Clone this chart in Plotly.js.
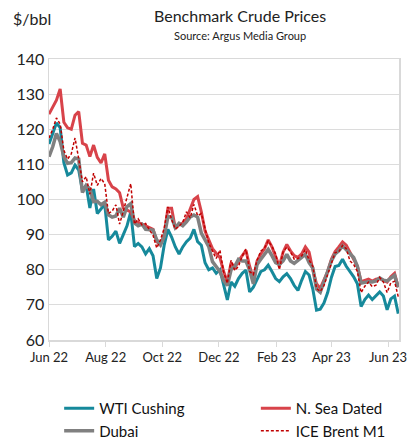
<!DOCTYPE html>
<html><head><meta charset="utf-8">
<script src="https://cdn.plot.ly/plotly-3.0.1.min.js"></script>
<style>html,body{margin:0;padding:0;background:#fff}#chart{width:411px;height:441px}</style>
</head><body><div id="chart"></div>
<script>
const dates = ["2022-06-01","2022-06-05","2022-06-09","2022-06-13","2022-06-17","2022-06-21","2022-06-25","2022-06-29",
"2022-07-03","2022-07-07","2022-07-11","2022-07-15","2022-07-19","2022-07-23","2022-07-27","2022-07-31",
"2022-08-04","2022-08-08","2022-08-12","2022-08-16","2022-08-20","2022-08-24","2022-08-28",
"2022-09-01","2022-09-05","2022-09-09","2022-09-13","2022-09-17","2022-09-21","2022-09-25","2022-09-29",
"2022-10-03","2022-10-07","2022-10-11","2022-10-15","2022-10-19","2022-10-23","2022-10-27","2022-10-31",
"2022-11-04","2022-11-08","2022-11-12","2022-11-16","2022-11-20","2022-11-24","2022-11-28",
"2022-12-02","2022-12-06","2022-12-10","2022-12-14","2022-12-18","2022-12-22","2022-12-26","2022-12-30",
"2023-01-03","2023-01-07","2023-01-11","2023-01-15","2023-01-19","2023-01-23","2023-01-27","2023-01-31",
"2023-02-04","2023-02-08","2023-02-12","2023-02-16","2023-02-20","2023-02-24","2023-02-28",
"2023-03-04","2023-03-08","2023-03-12","2023-03-16","2023-03-20","2023-03-24","2023-03-28",
"2023-04-01","2023-04-05","2023-04-09","2023-04-13","2023-04-17","2023-04-21","2023-04-25","2023-04-29",
"2023-05-03","2023-05-07","2023-05-11","2023-05-15","2023-05-19","2023-05-23","2023-05-27","2023-05-31",
"2023-06-04","2023-06-08","2023-06-12"];

const wtiCushing = [115.8,118.9,121.8,120.5,110.5,107,107.6,109.8,
108.4,102.5,104,97.6,103,96,97.3,98.6,
88.5,89.5,91,87.5,90,92.5,96.5,
86.6,87.5,86.5,84.5,86,84,77.5,80.5,
87,91.5,89.3,86.5,84.5,86.5,88,89,
91.5,88,87,82,80,80.5,79,
80,75.5,71.4,76.5,75.3,77.5,79,79.9,
73.7,75,77.5,79.5,80,81.3,79.5,77.5,
76.6,78,78.9,77.5,75.5,74.1,77,
79.5,78.5,74.5,68.5,68.8,70.5,73.5,
77.8,80.9,81.2,83,81,79.5,78,76,
69.5,71.5,72.8,71.5,72.5,73.7,72.5,68.6,
71.7,72.5,67.5];

const nSeaDated = [124.3,126.5,128.3,131.5,122,120.4,120,124,
125,116,115.5,112.2,115.5,112,110.4,113,
105.5,103.6,103,101.9,97.5,97,96.5,
94,93.5,93.2,92.5,92,91.5,88,87.1,
90,97.5,97.5,91.8,92.8,93.3,94.5,97,
100,100.8,96.5,91,88.5,86,84.7,
83.5,79.5,76.5,82,80.5,82.5,84,85.5,
81,77.5,82.5,84.5,86,88.5,86.5,84,
81,85,87.2,85.4,84,83.5,84.5,
86.5,85,80,76,74.7,77,79.5,
83,85.2,86.5,87.9,87,85,83,81,
76.6,77,77.3,76.8,77.3,77.5,77,76.5,
78,79,75];

const dubai = [112.2,115,118.8,116.5,112.2,110.3,110.5,111.8,
111.5,102,104,103,99.4,99.5,98.5,99.2,
95.6,95,95.3,97.5,95,98,98.8,
93.3,92.5,93,91.5,91.5,91.3,88.5,87.1,
89.4,95.1,95,92,93.2,92.5,93.6,95,
95.6,95,90.4,88.5,86.6,82.3,81,
79.5,77,75.5,80,81,83,82.5,82.5,
79.9,76,81.5,83,84.4,85.8,84,82,
81.5,82.5,84.4,82.5,81.8,82.5,83.5,
84.4,82,80.5,74.5,73.6,76.5,80,
82.5,84.5,85.4,86.8,85.8,84.5,83.5,81,
76.2,76.4,76.6,76.5,76.8,77.7,77,76.8,
77.5,78.4,75];

const iceBrentM1 = [117.5,120,123.2,121.5,114,111.5,113,117.5,
111.6,105,106.5,101.5,107.5,104,106,104.5,
96,96.7,98.5,93,96.7,100.5,104.5,
93,94.5,92.8,93.2,91.4,89.8,86.2,88.5,
91.8,97.9,94.3,91.6,92.4,93.5,96.5,94.8,
98.6,95.4,96,91.9,87.6,85.3,83.2,
85.6,79.4,76.1,82.7,79.8,81,83.9,85.9,
79.5,78.6,82.7,85.3,86.2,88.2,86.7,84.5,
80,85.1,86.4,85.1,83,83.2,83.9,
85.8,82.7,81,74.7,73.8,75.5,78.7,
81.5,84.9,85.1,86.9,86,82.5,81.5,79.5,
73.5,75.3,76.5,75.2,75.6,77.8,76.5,73.5,
76.3,76.7,72.3];

const seriesNames = ["WTI Cushing","N. Sea Dated","Dubai","ICE Brent M1"];
const FONT = "Lato, 'Open Sans', sans-serif";

const traces = [
  {x: dates, y: wtiCushing, name: seriesNames[0], type: "scatter", mode: "lines", legend: "legend",
   line: {color: "#16899b", width: 3}},
  {x: dates, y: nSeaDated, name: seriesNames[1], type: "scatter", mode: "lines", legend: "legend2",
   line: {color: "#d8434a", width: 3}},
  {x: dates, y: dubai, name: seriesNames[2], type: "scatter", mode: "lines", legend: "legend",
   line: {color: "#808080", width: 3.5}},
  {x: dates, y: iceBrentM1, name: seriesNames[3], type: "scatter", mode: "lines", legend: "legend2",
   line: {color: "#c00000", width: 1.5, dash: "3px,2px"}}
];

const legendBase = {orientation: "v", xref: "paper", yref: "paper", xanchor: "left",
  yanchor: "top", y: -0.185, tracegroupgap: 0, bgcolor: "rgba(0,0,0,0)",
  font: {family: FONT, size: 15, color: "#111"}};

const layout = {
  width: 411, height: 441,
  margin: {l: 49, r: 12, t: 59, b: 101, autoexpand: false},
  paper_bgcolor: "#fff", plot_bgcolor: "#fff",
  font: {family: FONT, color: "#222", size: 14},
  showlegend: true,
  legend: Object.assign({}, legendBase, {x: 0.029}),
  legend2: Object.assign({}, legendBase, {x: 0.591}),
  xaxis: {type: "date", range: ["2022-06-01", "2023-06-12 19:00"],
          tick0: "2022-06-01", dtick: "M2", tickformat: "%b %y",
          ticks: "outside", ticklen: 5, tickcolor: "#d9d9d9",
          showgrid: false, showline: true, linecolor: "#d9d9d9", linewidth: 1.5, mirror: true,
          tickfont: {family: FONT, size: 13, color: "#222"}},
  yaxis: {range: [60, 140], dtick: 10, showgrid: true, gridcolor: "#dcdcdc", gridwidth: 1,
          showline: true, linecolor: "#d9d9d9", linewidth: 1.5, mirror: true,
          ticks: "", zeroline: false,
          tickfont: {family: FONT, size: 16, color: "#222"}},
  annotations: [
    {text: "Benchmark Crude Prices", xref: "paper", yref: "paper", x: 0.545, y: 1.155,
     xanchor: "center", yanchor: "middle", showarrow: false,
     font: {family: FONT, size: 16, color: "#222"}},
    {text: "Source: Argus Media Group", xref: "paper", yref: "paper", x: 0.545, y: 1.083,
     xanchor: "center", yanchor: "middle", showarrow: false,
     font: {family: FONT, size: 11, color: "#222"}},
    {text: "$/bbl", xref: "paper", yref: "paper", x: -0.11, y: 1.145,
     xanchor: "left", yanchor: "middle", showarrow: false,
     font: {family: FONT, size: 16, color: "#222"}}
  ]
};

Plotly.newPlot("chart", traces, layout, {displayModeBar: false, staticPlot: true});
</script></body></html>
